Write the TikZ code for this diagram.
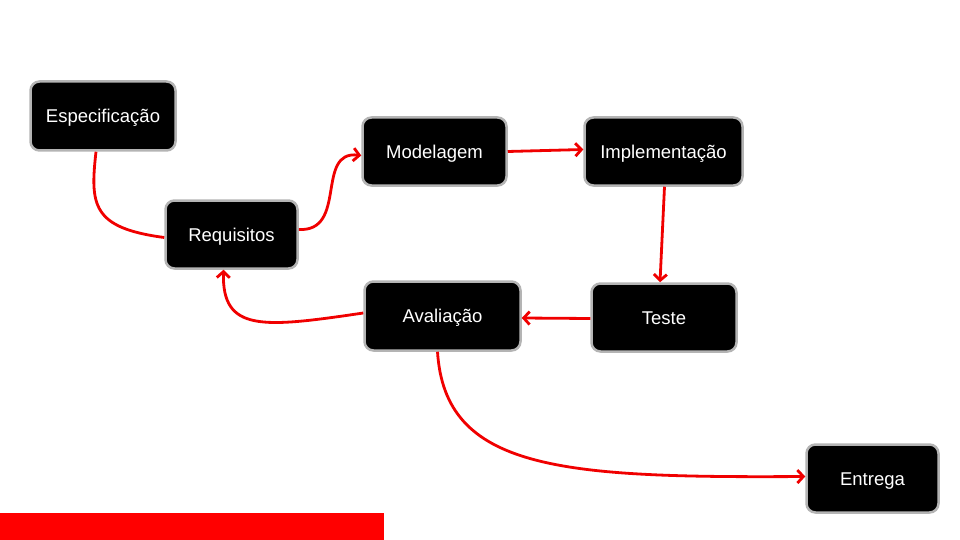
\documentclass[tikz,border=0pt]{standalone}
\usepackage{fontspec}
\setmainfont{Liberation Sans}
\usetikzlibrary{arrows.meta}
\definecolor{boxgray}{HTML}{B4B4B4}
\definecolor{arrred}{HTML}{F00000}
\tikzset{
  stepbox/.style={draw=boxgray, line width=2.5pt, fill=black, rounded corners=9pt,
    text=white, font=\fontsize{18.5}{22}\selectfont, inner sep=0pt, anchor=center,
    text height=13.5pt, text depth=0pt},
  conn/.style={draw=arrred, line width=2.8pt},
  arr/.style={conn, -{Straight Barb[length=6pt,width=13pt,line width=2.8pt]}}
}
\begin{document}
\begin{tikzpicture}[x=1pt,y=-1pt]
\useasboundingbox (0,0) rectangle (960,540);
\fill[red] (0,513) rectangle (384,540);
\node[stepbox, minimum width=145pt, minimum height=69pt] (espec) at (103,116) {Especificação};
\node[stepbox, minimum width=132pt, minimum height=68pt] (req) at (231.5,234.5) {Requisitos};
\node[stepbox, minimum width=144pt, minimum height=68pt] (mod) at (434.5,151.5) {Modelagem};
\node[stepbox, minimum width=158pt, minimum height=68pt] (impl) at (663.5,151.5) {Implementação};
\node[stepbox, minimum width=145pt, minimum height=68pt] (teste) at (664,317.5) {Teste};
\node[stepbox, minimum width=156pt, minimum height=69pt] (aval) at (442.5,316) {Avaliação};
\node[stepbox, minimum width=132pt, minimum height=68pt] (entr) at (872.5,478.5) {Entrega};

\draw[conn] ([xshift=-7pt]espec.south) .. controls (90,205) and (92,228) .. ([yshift=-3pt]req.west);
\draw[arr] ([yshift=5pt]req.east) .. controls (348,232) and (315,150) .. ([yshift=-4pt]mod.west);
\draw[arr] (mod.east) -- ([yshift=2pt]impl.west);
\draw[arr] ([xshift=1pt]impl.south) -- ([xshift=-4pt]teste.north);
\draw[arr] ([yshift=-1pt]teste.west) -- ([yshift=-2pt]aval.east);
\draw[arr] ([yshift=3pt]aval.west) .. controls (262,328) and (222,332) .. ([xshift=-8pt]req.south);
\draw[arr] ([xshift=-5pt]aval.south) .. controls (445,470) and (560,478) .. ([yshift=2pt]entr.west);
\end{tikzpicture}
\end{document}
